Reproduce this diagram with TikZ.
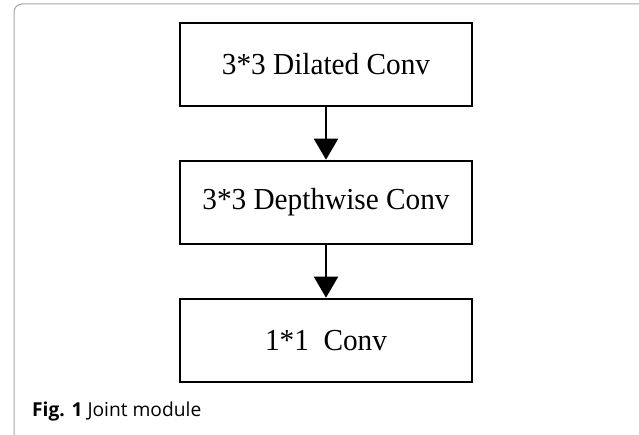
\documentclass[tikz,border=0pt]{standalone}
\usepackage{fontspec}
\setmainfont{Liberation Serif}
\newfontfamily\boxfont[FakeStretch=0.96]{Liberation Serif}
\newfontfamily\capfont{Open Sans}
\usetikzlibrary{arrows.meta}
\begin{document}
\begin{tikzpicture}[x=1pt,y=1pt,
  stage/.style={draw=black,line width=2.6pt,minimum width=292pt,minimum height=83pt,inner sep=0pt,font=\boxfont\fontsize{30.5}{34}\selectfont},
  flow/.style={line width=2pt,-{Triangle[width=24pt,length=21pt]}}]
\useasboundingbox (0,0) rectangle (639,434);
\draw[draw=gray!70,line width=1pt,rounded corners=8pt] (14,-10) rectangle (660,430);
\node[stage] (a) at (326,369.5) {3*3 Dilated Conv};
\node[stage] (b) at (326,231.5) {3*3 Depthwise Conv};
\node[stage] (c) at (326,93.5) {1*1\ \ Conv};
\draw[flow] (a) -- (b);
\draw[flow] (b) -- (c);
\node[anchor=base west,inner sep=0pt,font=\capfont\fontsize{19.2}{22}\selectfont] (cap) at (32,18) {\textbf{Fig. 1} Joint module};
\end{tikzpicture}
\end{document}
